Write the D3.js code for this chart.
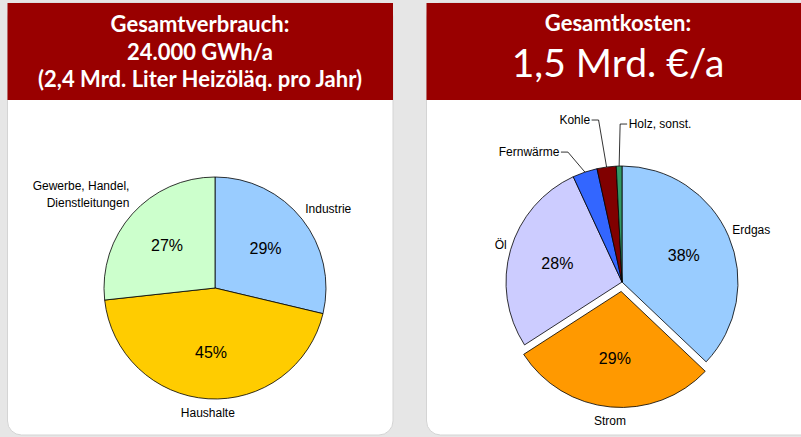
<!DOCTYPE html>
<html>
<head>
<meta charset="utf-8">
<script src="https://cdn.jsdelivr.net/npm/d3@7"></script>
<style>
  body { margin: 0; background: #e6e6e6; }
  svg { display: block; }
</style>
</head>
<body>
<svg id="chart" width="801" height="437"></svg>
<script>
var width = 801, height = 437

// left panel: consumption by sector (%)
var useTitle = ['Gesamtverbrauch:', '24.000 GWh/a', '(2,4 Mrd. Liter Heizöläq. pro Jahr)']
var useCategories = ['Industrie', 'Haushalte', 'Gewerbe, Handel, Dienstleitungen']
var useLabelLines = [['Industrie'], ['Haushalte'], ['Gewerbe, Handel,', 'Dienstleitungen']]
var useShares = [29, 45, 27]
var useColors = ['#99ccff', '#ffcc00', '#ccffcc']

// right panel: costs by energy carrier (%)
var costTitle = ['Gesamtkosten:', '1,5 Mrd. €/a']
var costCategories = ['Erdgas', 'Strom', 'Öl', 'Fernwärme', 'Kohle', 'Holz, sonst.']
var costShares = [37.6, 29.2, 27.6, 3.5, 2.7, 0.8]
var costColors = ['#99ccff', '#ff9900', '#ccccff', '#3366ff', '#800000', '#339966']

var svg = d3.select('#chart')
var labelFont = '"Liberation Sans", Arial, sans-serif'
var titleFont = 'Lato, "Open Sans", sans-serif'

// cards + red headers
function card(x, w) {
  svg.append('rect')
    .attr('x', x).attr('y', 3).attr('width', w).attr('height', 432)
    .attr('rx', 14)
    .attr('fill', '#fff').attr('stroke', '#d4d4d4').attr('stroke-width', 1)
  svg.append('rect')
    .attr('x', x).attr('y', 3).attr('width', w).attr('height', 97)
    .attr('fill', '#990000')
}
card(7.5, 385.5)
card(426.5, 390)

var lt = svg.append('g').attr('fill', '#fff').attr('font-family', titleFont)
  .attr('font-weight', 'bold').attr('font-size', 22).attr('text-anchor', 'middle')
lt.selectAll('text').data(useTitle).enter().append('text')
  .attr('x', 200).attr('y', function(d, i) { return 32 + i * 27.5 })
  .text(function(d) { return d })

var rt = svg.append('g').attr('fill', '#fff').attr('font-family', titleFont)
  .attr('text-anchor', 'middle')
rt.append('text').attr('x', 618).attr('y', 31)
  .attr('font-weight', 'bold').attr('font-size', 22).text(costTitle[0])
rt.append('text').attr('x', 618).attr('y', 77)
  .attr('font-size', 39).text(costTitle[1])

var pie = d3.pie().sort(null).value(function(d) { return d.value })

function midAngle(d) { return (d.startAngle + d.endAngle) / 2 }

function drawPie(opts) {
  var data = opts.categories.map(function(c, i) {
    return { name: c, value: opts.values[i], color: opts.colors[i], lines: opts.lines ? opts.lines[i] : [c] }
  })
  var arcs = pie(data)
  var r = opts.radius
  var arc = d3.arc().innerRadius(0).outerRadius(r)
  var g = svg.append('g').attr('transform', 'translate(' + opts.cx + ',' + opts.cy + ')')

  function shift(d) {
    var off = d.data.name === opts.explode ? opts.explodeBy : 0
    var a = midAngle(d)
    return [Math.sin(a) * off, -Math.cos(a) * off]
  }

  g.selectAll('path').data(arcs).enter().append('path')
    .attr('d', arc)
    .attr('transform', function(d) { var s = shift(d); return 'translate(' + s[0] + ',' + s[1] + ')' })
    .attr('fill', function(d) { return d.data.color })
    .attr('stroke', '#000').attr('stroke-width', 0.8)
    .attr('stroke-linejoin', 'round')

  // percentages inside
  var inner = d3.arc().innerRadius(r * 0.58).outerRadius(r * 0.58)
  g.selectAll('text.pct').data(arcs.filter(function(d) { return d.data.value > 10 })).enter()
    .append('text').attr('class', 'pct')
    .attr('transform', function(d) {
      var c = inner.centroid(d), s = shift(d)
      return 'translate(' + (c[0] + s[0]) + ',' + (c[1] + s[1]) + ')'
    })
    .attr('text-anchor', 'middle').attr('dy', '0.36em')
    .attr('font-family', labelFont).attr('font-size', 16).attr('fill', '#000')
    .text(function(d) { return Math.round(d.data.value) + '%' })

  // category labels outside
  arcs.forEach(function(d) {
    var a = midAngle(d), s = shift(d)
    var sx = Math.sin(a), cy = -Math.cos(a)
    var lead = opts.leaders && opts.leaders[d.data.name]
    var t = g.append('text').attr('font-family', labelFont).attr('font-size', 12).attr('fill', '#000')
    if (lead) {
      var px = sx * r, py = cy * r
      var ex = px + lead.dx, ey = py + lead.dy
      var hx = ex + lead.side * 7
      g.append('path')
        .attr('d', 'M' + px + ',' + py + 'L' + ex + ',' + ey + 'L' + hx + ',' + ey)
        .attr('fill', 'none').attr('stroke', '#000').attr('stroke-width', 0.8)
      t.attr('x', hx + lead.side * 1.5).attr('y', ey).attr('dy', '0.35em')
        .attr('text-anchor', lead.side < 0 ? 'end' : 'start')
        .text(d.data.name)
      return
    }
    var lr = r + 4
    var x = sx * lr + s[0], y = cy * lr + s[1]
    var anchor = Math.abs(sx) < 0.3 ? 'middle' : (sx > 0 ? 'start' : 'end')
    var n = d.data.lines.length
    var y0
    if (anchor === 'middle') y0 = cy > 0 ? y + 14 : y - 4 - (n - 1) * 17
    else y0 = y + 4 + 12 * cy - (n - 1) * 17
    d.data.lines.forEach(function(line, i) {
      t.append('tspan').attr('x', x).attr('y', y0 + i * 17).text(line)
    })
    t.attr('text-anchor', anchor)
  })
}

drawPie({
  categories: useCategories, values: useShares, colors: useColors, lines: useLabelLines,
  cx: 215, cy: 288, radius: 111
})

drawPie({
  categories: costCategories, values: costShares, colors: costColors,
  cx: 622, cy: 282, radius: 116, explode: 'Strom', explodeBy: 9.5,
  leaders: {
    'Fernwärme': { dx: -17, dy: -20, side: -1 },
    'Kohle': { dx: -8, dy: -47, side: -1 },
    'Holz, sonst.': { dx: 1, dy: -42, side: 1 }
  }
})
</script>
</body>
</html>
